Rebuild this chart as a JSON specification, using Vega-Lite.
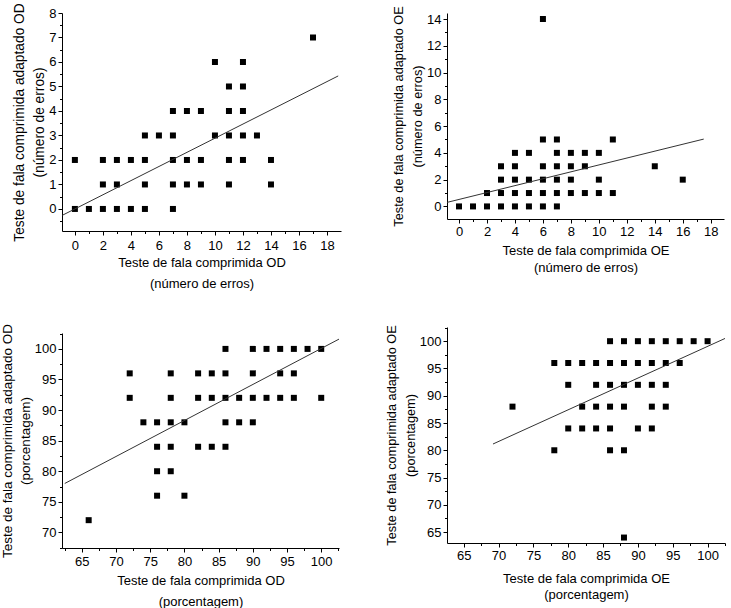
{
  "$schema": "https://vega.github.io/schema/vega-lite/v6.json",
  "background": "white",
  "padding": {"left": 0, "top": 2, "right": 5, "bottom": 0},
  "config": {
    "font": "Liberation Sans",
    "view": {"stroke": null},
    "axis": {
      "grid": false,
      "domainColor": "black",
      "tickColor": "black",
      "tickSize": 4,
      "labelPadding": 2,
      "titlePadding": 2,
      "labelFont": "Liberation Sans",
      "labelFontSize": 13,
      "labelColor": "black",
      "titleFont": "Liberation Sans",
      "titleFontSize": 13,
      "titleFontWeight": "normal",
      "titleColor": "black",
      "titleLineHeight": 20,
      "labelFlush": false,
      "labelOverlap": false
    }
  },
  "datasets": {
    "p1": [
      {"x":0,"y":0},{"x":0,"y":2},{"x":1,"y":0},{"x":2,"y":0},{"x":2,"y":1},{"x":2,"y":2},{"x":3,"y":0},{"x":3,"y":1},{"x":3,"y":2},{"x":4,"y":0},{"x":4,"y":2},{"x":5,"y":0},{"x":5,"y":1},{"x":5,"y":2},{"x":5,"y":3},{"x":6,"y":3},{"x":7,"y":0},{"x":7,"y":1},{"x":7,"y":2},{"x":7,"y":3},{"x":7,"y":4},{"x":8,"y":1},{"x":8,"y":2},{"x":8,"y":4},{"x":9,"y":1},{"x":9,"y":2},{"x":9,"y":4},{"x":10,"y":3},{"x":10,"y":6},{"x":11,"y":1},{"x":11,"y":2},{"x":11,"y":3},{"x":11,"y":4},{"x":11,"y":5},{"x":12,"y":2},{"x":12,"y":3},{"x":12,"y":4},{"x":12,"y":5},{"x":12,"y":6},{"x":13,"y":3},{"x":14,"y":1},{"x":14,"y":2},{"x":17,"y":7}
    ],
    "l1": [{"x":-0.9,"y":-0.26},{"x":18.8,"y":5.43}],
    "p2": [
      {"x":0,"y":0},{"x":1,"y":0},{"x":2,"y":0},{"x":2,"y":1},{"x":3,"y":0},{"x":3,"y":1},{"x":3,"y":2},{"x":3,"y":3},{"x":4,"y":0},{"x":4,"y":1},{"x":4,"y":2},{"x":4,"y":3},{"x":4,"y":4},{"x":5,"y":0},{"x":5,"y":1},{"x":5,"y":2},{"x":5,"y":4},{"x":6,"y":0},{"x":6,"y":1},{"x":6,"y":2},{"x":6,"y":3},{"x":6,"y":5},{"x":6,"y":14},{"x":7,"y":0},{"x":7,"y":1},{"x":7,"y":2},{"x":7,"y":3},{"x":7,"y":4},{"x":7,"y":5},{"x":8,"y":1},{"x":8,"y":2},{"x":8,"y":3},{"x":8,"y":4},{"x":9,"y":1},{"x":9,"y":3},{"x":9,"y":4},{"x":10,"y":1},{"x":10,"y":2},{"x":10,"y":4},{"x":11,"y":1},{"x":11,"y":5},{"x":14,"y":3},{"x":16,"y":2}
    ],
    "l2": [{"x":-0.86,"y":0.3},{"x":17.5,"y":5.03}],
    "p3": [
      {"x":66,"y":72},{"x":72,"y":92},{"x":72,"y":96},{"x":74,"y":88},{"x":76,"y":76},{"x":76,"y":80},{"x":76,"y":84},{"x":76,"y":88},{"x":78,"y":80},{"x":78,"y":84},{"x":78,"y":88},{"x":78,"y":92},{"x":78,"y":96},{"x":80,"y":76},{"x":80,"y":88},{"x":82,"y":84},{"x":82,"y":92},{"x":82,"y":96},{"x":84,"y":84},{"x":84,"y":92},{"x":84,"y":96},{"x":86,"y":84},{"x":86,"y":88},{"x":86,"y":92},{"x":86,"y":96},{"x":86,"y":100},{"x":88,"y":88},{"x":88,"y":92},{"x":90,"y":88},{"x":90,"y":92},{"x":90,"y":96},{"x":90,"y":100},{"x":92,"y":92},{"x":92,"y":100},{"x":94,"y":92},{"x":94,"y":96},{"x":94,"y":100},{"x":96,"y":92},{"x":96,"y":96},{"x":96,"y":100},{"x":98,"y":100},{"x":100,"y":92},{"x":100,"y":100}
    ],
    "l3": [{"x":62.5,"y":78.0},{"x":102.6,"y":101.6}],
    "p4": [
      {"x":72,"y":88},{"x":78,"y":80},{"x":78,"y":96},{"x":80,"y":84},{"x":80,"y":92},{"x":80,"y":96},{"x":82,"y":84},{"x":82,"y":88},{"x":82,"y":96},{"x":84,"y":84},{"x":84,"y":88},{"x":84,"y":92},{"x":84,"y":96},{"x":86,"y":80},{"x":86,"y":84},{"x":86,"y":88},{"x":86,"y":92},{"x":86,"y":96},{"x":86,"y":100},{"x":88,"y":64},{"x":88,"y":80},{"x":88,"y":88},{"x":88,"y":92},{"x":88,"y":96},{"x":88,"y":100},{"x":90,"y":84},{"x":90,"y":92},{"x":90,"y":96},{"x":90,"y":100},{"x":92,"y":84},{"x":92,"y":88},{"x":92,"y":92},{"x":92,"y":96},{"x":92,"y":100},{"x":94,"y":88},{"x":94,"y":92},{"x":94,"y":96},{"x":94,"y":100},{"x":96,"y":96},{"x":96,"y":100},{"x":98,"y":100},{"x":100,"y":100}
    ],
    "l4": [{"x":69.2,"y":81.15},{"x":102.5,"y":100.5}]
  },
  "columns": 2,
  "align": "none",
  "spacing": {"column": 44, "row": 0},
  "concat": [
    {
      "spacing": 33,
      "vconcat": [
        {
          "width": 279, "height": 218,
          "resolve": {"axis": {"x": "independent", "y": "independent"}},
          "layer": [
            {"data": {"name": "p1"}, "mark": {"type": "point", "shape": "square", "filled": true, "color": "black", "opacity": 1, "size": 36},
             "encoding": {
               "x": {"field": "x", "type": "quantitative", "scale": {"domain": [-0.92, 19], "nice": false, "zero": false}, "axis": {"orient": "bottom", "values": [0,2,4,6,8,10,12,14,16,18], "labelPadding": 4, "titlePadding": 4, "titleLineHeight": 21, "title": ["Teste de fala comprimida OD", "(número de erros)"]}},
               "y": {"field": "y", "type": "quantitative", "scale": {"domain": [-0.9, 8], "nice": false, "zero": false}, "axis": {"orient": "left", "values": [0,1,2,3,4,5,6,7,8], "titleFontSize": 13.75, "title": ["Teste de fala comprimida adaptado OD", "(número de erros)"]}}
             }},
            {"data": {"name": "l1"}, "mark": {"type": "line", "color": "#333333", "strokeWidth": 1},
             "encoding": {
               "x": {"field": "x", "type": "quantitative", "axis": {"orient": "bottom", "values": [-1,1,3,5,7,9,11,13,15,17], "labels": false, "domain": false, "tickSize": 2.5, "title": null}},
               "y": {"field": "y", "type": "quantitative", "axis": {"orient": "left", "values": [-0.5,0.5,1.5,2.5,3.5,4.5,5.5,6.5,7.5], "labels": false, "domain": false, "tickSize": 2.5, "title": null}}
             }}
          ]
        },
        {
          "width": 277, "height": 215,
          "resolve": {"axis": {"x": "independent", "y": "independent"}},
          "layer": [
            {"data": {"name": "p3"}, "mark": {"type": "point", "shape": "square", "filled": true, "color": "black", "opacity": 1, "size": 36},
             "encoding": {
               "x": {"field": "x", "type": "quantitative", "scale": {"domain": [62.1, 102.6], "nice": false, "zero": false}, "axis": {"orient": "bottom", "values": [65,70,75,80,85,90,95,100], "labelPadding": 3, "titlePadding": 6, "titleLineHeight": 21, "title": ["Teste de fala comprimida OD", "(porcentagem)"]}},
               "y": {"field": "y", "type": "quantitative", "scale": {"domain": [67.45, 102.6], "nice": false, "zero": false}, "axis": {"orient": "left", "values": [70,75,80,85,90,95,100], "titleFontSize": 13.5, "titleLineHeight": 18, "title": ["Teste de fala comprimida adaptado OD", "(porcentagem)"]}}
             }},
            {"data": {"name": "l3"}, "mark": {"type": "line", "color": "#333333", "strokeWidth": 1},
             "encoding": {
               "x": {"field": "x", "type": "quantitative", "axis": {"orient": "bottom", "values": [62.5,67.5,72.5,77.5,82.5,87.5,92.5,97.5,102.5], "labels": false, "domain": false, "tickSize": 2.5, "title": null}},
               "y": {"field": "y", "type": "quantitative", "axis": {"orient": "left", "values": [67.5,72.5,77.5,82.5,87.5,92.5,97.5,102.5], "labels": false, "domain": false, "tickSize": 2.5, "title": null}}
             }}
          ]
        }
      ]
    },
    {
      "spacing": 50,
      "vconcat": [
        {
          "width": 277, "height": 206,
          "resolve": {"axis": {"x": "independent", "y": "independent"}},
          "layer": [
            {"data": {"name": "p2"}, "mark": {"type": "point", "shape": "square", "filled": true, "color": "black", "opacity": 1, "size": 36},
             "encoding": {
               "x": {"field": "x", "type": "quantitative", "scale": {"domain": [-0.86, 18.95], "nice": false, "zero": false}, "axis": {"orient": "bottom", "values": [0,2,4,6,8,10,12,14,16,18], "titlePadding": 6, "titleLineHeight": 17, "title": ["Teste de fala comprimida OE", "(número de erros)"]}},
               "y": {"field": "y", "type": "quantitative", "scale": {"domain": [-0.94, 14.45], "nice": false, "zero": false}, "axis": {"orient": "left", "values": [0,2,4,6,8,10,12,14], "titleFontSize": 12.75, "titleLineHeight": 19, "title": ["Teste de fala comprimida adaptado OE", "(número de erros)"]}}
             }},
            {"data": {"name": "l2"}, "mark": {"type": "line", "color": "#333333", "strokeWidth": 1},
             "encoding": {
               "x": {"field": "x", "type": "quantitative", "axis": {"orient": "bottom", "values": [1,3,5,7,9,11,13,15,17], "labels": false, "domain": false, "tickSize": 2.5, "title": null}},
               "y": {"field": "y", "type": "quantitative", "axis": {"orient": "left", "values": [1,3,5,7,9,11,13], "labels": false, "domain": false, "tickSize": 2.5, "title": null}}
             }}
          ]
        },
        {
          "width": 278, "height": 216,
          "resolve": {"axis": {"x": "independent", "y": "independent"}},
          "layer": [
            {"data": {"name": "p4"}, "mark": {"type": "point", "shape": "square", "filled": true, "color": "black", "opacity": 1, "size": 36},
             "encoding": {
               "x": {"field": "x", "type": "quantitative", "scale": {"domain": [62.6, 102.5], "nice": false, "zero": false}, "axis": {"orient": "bottom", "values": [65,70,75,80,85,90,95,100], "titlePadding": 10, "titleLineHeight": 16, "title": ["Teste de fala comprimida OE", "(porcentagem)"]}},
               "y": {"field": "y", "type": "quantitative", "scale": {"domain": [63.0, 102.6], "nice": false, "zero": false}, "axis": {"orient": "left", "values": [65,70,75,80,85,90,95,100], "titleFontSize": 12.75, "titleLineHeight": 19, "title": ["Teste de fala comprimida adaptado OE", "(porcentagem)"]}}
             }},
            {"data": {"name": "l4"}, "mark": {"type": "line", "color": "#333333", "strokeWidth": 1},
             "encoding": {
               "x": {"field": "x", "type": "quantitative", "axis": {"orient": "bottom", "values": [67.5,72.5,77.5,82.5,87.5,92.5,97.5,102.5], "labels": false, "domain": false, "tickSize": 2.5, "title": null}},
               "y": {"field": "y", "type": "quantitative", "axis": {"orient": "left", "values": [67.5,72.5,77.5,82.5,87.5,92.5,97.5,102.5], "labels": false, "domain": false, "tickSize": 2.5, "title": null}}
             }}
          ]
        }
      ]
    }
  ]
}
